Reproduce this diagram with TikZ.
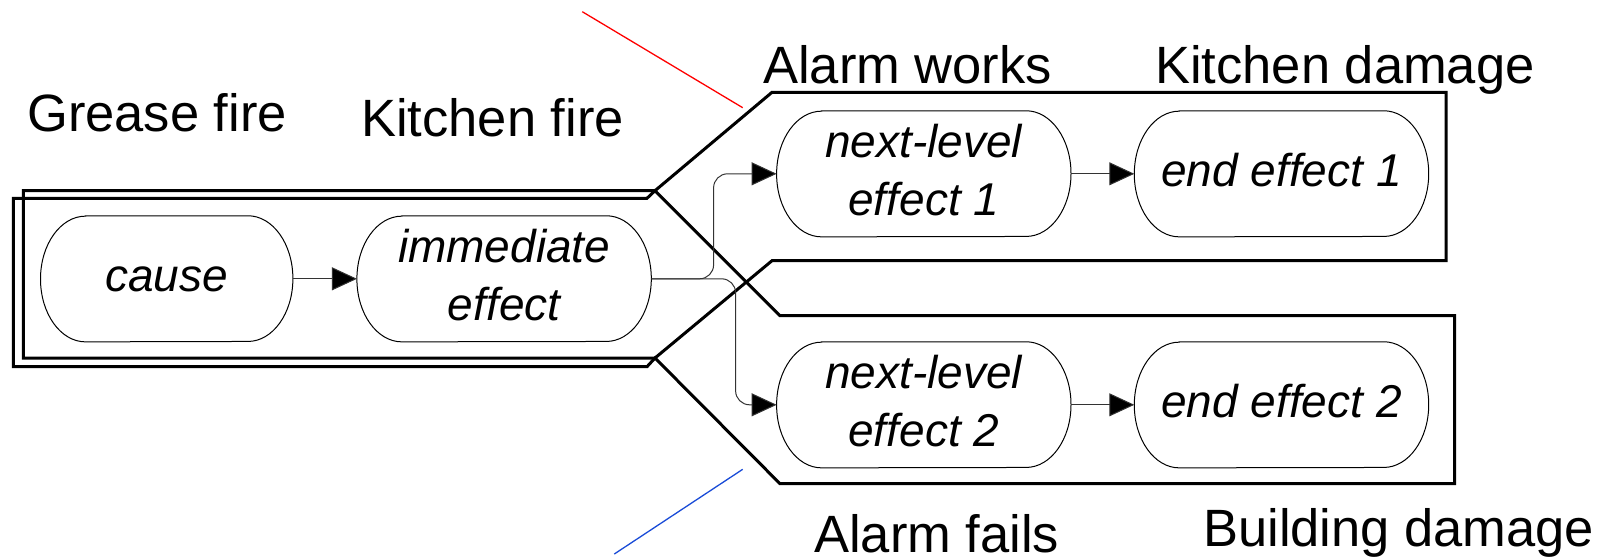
\documentclass[tikz,border=0pt]{standalone}
\usepackage{fontspec}
\setmainfont{Liberation Sans}
\usepackage{xcolor}
\usetikzlibrary{arrows.meta, positioning}
\definecolor{callblue}{RGB}{25,75,215}

\begin{document}
\begin{tikzpicture}[x=1pt, y=-1pt]
		\tikzset{
			evt/.style={minimum width=294pt, minimum height=125.7pt, inner sep=0pt, align=center, text depth=8pt, font=\fontsize{46}{58}\selectfont\itshape},
			one/.style={text height=33.6pt},
			lbl/.style={anchor=base west, inner sep=0pt, font=\fontsize{52.5}{60}\selectfont},
			branch/.style={line width=3pt, line join=miter},
			rim/.style={line width=1pt},
			link/.style={line width=1pt, black!80, -{Triangle[length=25pt, width=23pt, fill=black]}}
		}
		\useasboundingbox (0,0) rectangle (1611,558);
		% branch outlines
		\draw[branch] (13.3,198.3) -- (647,198.3) -- (655,190.7) -- (780,315.7) -- (1454.5,315.7) -- (1454.5,483.7) -- (780,483.7) -- (655,358) -- (647,366.7) -- (13.3,366.7) -- cycle;
		\draw[branch] (23.3,190.7) -- (655,190.7) -- (772,92.3) -- (1446,92.3) -- (1446,260.7) -- (772,260.7) -- (655,358) -- (23.3,358) -- cycle;
		
		\node[evt, one, minimum width=252pt] (cause) at (166.7,278.8) {cause};
		\node[evt, right=64pt of cause] (imm) {immediate\\effect};
		\node[evt] (nl1) at (923.8,173.8) {next-level\\effect 1};
		\node[evt, one, right=63.3pt of nl1] (ee1) {end effect 1};
		\node[evt] (nl2) at (923.8,404.8) {next-level\\effect 2};
		\node[evt, one, right=63.3pt of nl2] (ee2) {end effect 2};
		\foreach \n in {cause,imm,nl1,ee1,nl2,ee2}
			\draw[rim] ([xshift=45pt]\n.north west) -- ([xshift=-45pt]\n.north east) arc[start angle=90, end angle=-90, x radius=45pt, y radius=62.85pt] -- ([xshift=45pt]\n.south west) arc[start angle=270, end angle=90, x radius=45pt, y radius=62.85pt] -- cycle;
		
		\draw[link] (cause) -- (imm);
		\draw[link] (nl1) -- (ee1);
		\draw[link] (nl2) -- (ee2);
		\draw[link, rounded corners=14pt] (imm.east) -- ++(62.3,0) |- (nl1.west);
		\draw[link, rounded corners=14pt] (imm.east) -- ++(84.3,0) |- (nl2.west);
		
		\node[lbl] (grease) at (27,131) {Grease fire};
		\node[lbl] (kfire) at (361,136.5) {Kitchen fire};
		\node[lbl] (works) at (763,83.3) {Alarm works};
		\node[lbl] (kdmg) at (1155,83.3) {Kitchen damage};
		\node[lbl] (fails) at (814,552) {Alarm fails};
		\node[lbl] (bdmg) at (1203,546.5) {Building damage};
		
		\coordinate (rtop) at (582.3,11.7);
		\coordinate (rend) at (742.7,107.7);
		\coordinate (bend) at (742.7,469.3);
		\coordinate (bbot) at (614.3,554);
		\draw[red, line width=1.3pt] (rtop) -- (rend);
		\draw[callblue, line width=1.3pt] (bend) -- (bbot);
	\end{tikzpicture}
\end{document}
